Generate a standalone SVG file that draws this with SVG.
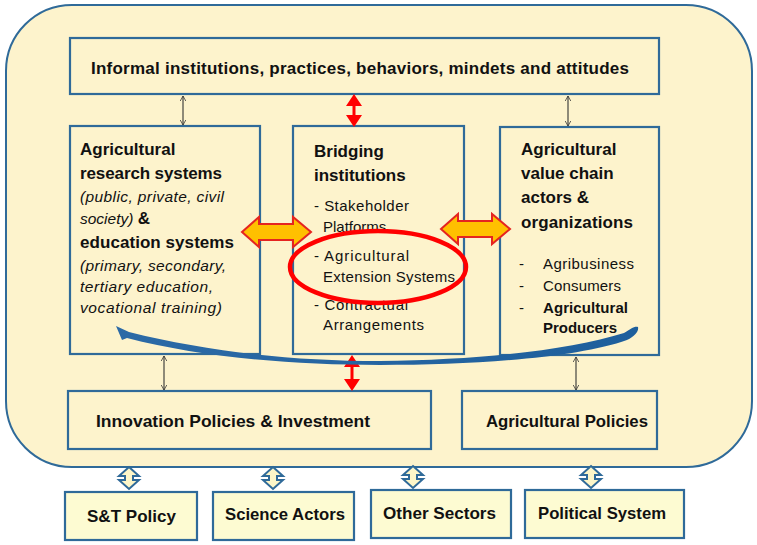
<svg xmlns="http://www.w3.org/2000/svg" width="757" height="545" viewBox="0 0 757 545">
<style>
.box{fill:#fdf3cc;stroke:#2f6a99;stroke-width:2.2}
.sbox{fill:#fdfbd2;stroke:#2f6a99;stroke-width:2.2}
.t{font-family:"Liberation Sans",Arial,sans-serif;fill:#111}
.b{font-weight:bold}
.i{font-style:italic}
.thin{stroke:#333;stroke-width:1.1;fill:none}
.orange{fill:#ffc000;stroke:#e52420;stroke-width:2}
.red{fill:#ff0000}
.dia{fill:#fdf6c8;stroke:#2f6a99;stroke-width:2}
</style>
<defs>
<marker id="ah" viewBox="0 0 10 10" refX="9" refY="5" markerWidth="6" markerHeight="6" orient="auto-start-reverse" markerUnits="userSpaceOnUse">
<path d="M0,0 L9,5 L0,10" fill="none" stroke="#333" stroke-width="1.3"/>
</marker>
<linearGradient id="bg" x1="0" y1="0" x2="1" y2="0">
<stop offset="0" stop-color="#2c6aa6"/><stop offset="1" stop-color="#1e5f9c"/>
</linearGradient>
</defs>
<rect width="757" height="545" fill="#ffffff"/>
<rect id="outer" x="6" y="5" width="746" height="462" rx="66" ry="66" fill="#fdf3cc" stroke="#2f6a99" stroke-width="2"/>

<g id="informal"><rect class="box" x="70" y="38" width="589" height="56"/>
<text class="t b" x="91" y="74" font-size="17" textLength="538">Informal institutions, practices, behaviors, mindets and attitudes</text></g>

<g id="research"><rect class="box" x="70" y="126" width="190" height="228"/>
<text class="t b" font-size="17" x="80" y="155">Agricultural</text>
<text class="t b" font-size="17" x="80" y="179" textLength="142">research systems</text>
<text class="t i" font-size="15.5" x="80" y="202" textLength="144">(public, private, civil</text>
<text class="t" font-size="15.5" x="80" y="224"><tspan class="i">society) </tspan><tspan class="b" font-size="17">&amp;</tspan></text>
<text class="t b" font-size="17" x="80" y="248" textLength="154">education systems</text>
<text class="t i" font-size="15.5" x="80" y="271" textLength="146">(primary, secondary,</text>
<text class="t i" font-size="15.5" x="80" y="292" textLength="133">tertiary education,</text>
<text class="t i" font-size="15.5" x="80" y="313" textLength="142">vocational training)</text></g>

<g id="bridging"><rect class="box" x="293" y="126" width="171" height="228"/>
<text class="t b" font-size="17" x="314" y="157">Bridging</text>
<text class="t b" font-size="17" x="314" y="181">institutions</text>
<text class="t" font-size="15" x="314" y="211" textLength="95">- Stakeholder</text>
<text class="t" font-size="15" x="323" y="232">Platforms</text>
<text class="t" font-size="15" x="314" y="261" textLength="95">- Agricultural</text>
<text class="t" font-size="15" x="323" y="282" textLength="132">Extension Systems</text>
<text class="t" font-size="15" x="314" y="310" textLength="94">- Contractual</text>
<text class="t" font-size="15" x="323" y="330" textLength="101">Arrangements</text></g>

<g id="valuechain"><rect class="box" x="500" y="127" width="159" height="228"/>
<text class="t b" font-size="17" x="521" y="155">Agricultural</text>
<text class="t b" font-size="17" x="521" y="179">value chain</text>
<text class="t b" font-size="17" x="521" y="203">actors &amp;</text>
<text class="t b" font-size="17" x="521" y="228" textLength="112">organizations</text>
<text class="t" font-size="15" x="519" y="269">-</text>
<text class="t" font-size="15" x="543" y="269" textLength="91">Agribusiness</text>
<text class="t" font-size="15" x="519" y="291">-</text>
<text class="t" font-size="15" x="543" y="291" textLength="78">Consumers</text>
<text class="t" font-size="15" x="519" y="313">-</text>
<text class="t b" font-size="15" x="543" y="313" textLength="85">Agricultural</text>
<text class="t b" font-size="15" x="543" y="333" textLength="74">Producers</text></g>

<g id="innovation"><rect class="box" x="68" y="391" width="363" height="58"/>
<text class="t b" font-size="17" x="96" y="427" textLength="274" lengthAdjust="spacingAndGlyphs">Innovation Policies &amp; Investment</text></g>

<g id="agripolicies"><rect class="box" x="462" y="391" width="195" height="58"/>
<text class="t b" font-size="17" x="486" y="427" textLength="162" lengthAdjust="spacingAndGlyphs">Agricultural Policies</text></g>

<g id="stpolicy"><rect class="sbox" x="65" y="492" width="132" height="48"/>
<text class="t b" font-size="17" x="87" y="522" textLength="89" lengthAdjust="spacingAndGlyphs">S&amp;T Policy</text></g>
<g id="science"><rect class="sbox" x="213" y="492" width="141" height="48"/>
<text class="t b" font-size="17" x="225" y="520" textLength="120" lengthAdjust="spacingAndGlyphs">Science Actors</text></g>
<g id="othersectors"><rect class="sbox" x="371" y="490" width="140" height="48"/>
<text class="t b" font-size="17" x="383" y="519" textLength="113" lengthAdjust="spacingAndGlyphs">Other Sectors</text></g>
<g id="political"><rect class="sbox" x="525" y="490" width="159" height="48"/>
<text class="t b" font-size="17" x="538" y="519" textLength="128" lengthAdjust="spacingAndGlyphs">Political System</text></g>

<g id="connectors">
<line class="thin" x1="183" y1="96" x2="183" y2="125" marker-start="url(#ah)" marker-end="url(#ah)"/>
<line class="thin" x1="568" y1="96" x2="568" y2="126" marker-start="url(#ah)" marker-end="url(#ah)"/>
<line class="thin" x1="164" y1="356" x2="164" y2="390" marker-start="url(#ah)" marker-end="url(#ah)"/>
<line class="thin" x1="576" y1="357" x2="576" y2="390" marker-start="url(#ah)" marker-end="url(#ah)"/>
<polygon class="red" points="354,94 362,106 355.5,106 355.5,115 362,115 354,127 346,115 352.5,115 352.5,106 346,106"/>
<polygon class="red" points="352,355 360,367 353.5,367 353.5,379 360,379 352,391 344,379 350.5,379 350.5,367 344,367"/>
<polygon class="orange" points="242,232 259,217 259,224 293,224 293,217 311,232 293,247 293,240 259,240 259,247"/>
<polygon class="orange" points="441,229 458,214 458,221 492,221 492,214 510,229 492,244 492,237 458,237 458,244"/>
<path d="M116,326 L129,332 C205,351 290,361 380,361 C480,360 570,350 624,333 C631,329 634,326 638,327 C639,331 635,336 627,340 C580,357 480,365 380,365 C290,365 200,357 127,338 L122,340 Z" fill="url(#bg)"/>
<ellipse cx="378" cy="267" rx="88" ry="36" fill="none" stroke="#ff0000" stroke-width="4.5"/>
<polygon class="dia" transform="translate(129,478)" points="0,-11 10,-2 4,-2 4,2 10,2 0,11 -10,2 -4,2 -4,-2 -10,-2"/>
<polygon class="dia" transform="translate(273,478)" points="0,-11 10,-2 4,-2 4,2 10,2 0,11 -10,2 -4,2 -4,-2 -10,-2"/>
<polygon class="dia" transform="translate(413,477)" points="0,-11 10,-2 4,-2 4,2 10,2 0,11 -10,2 -4,2 -4,-2 -10,-2"/>
<polygon class="dia" transform="translate(591,477)" points="0,-11 10,-2 4,-2 4,2 10,2 0,11 -10,2 -4,2 -4,-2 -10,-2"/>
</g>
</svg>
